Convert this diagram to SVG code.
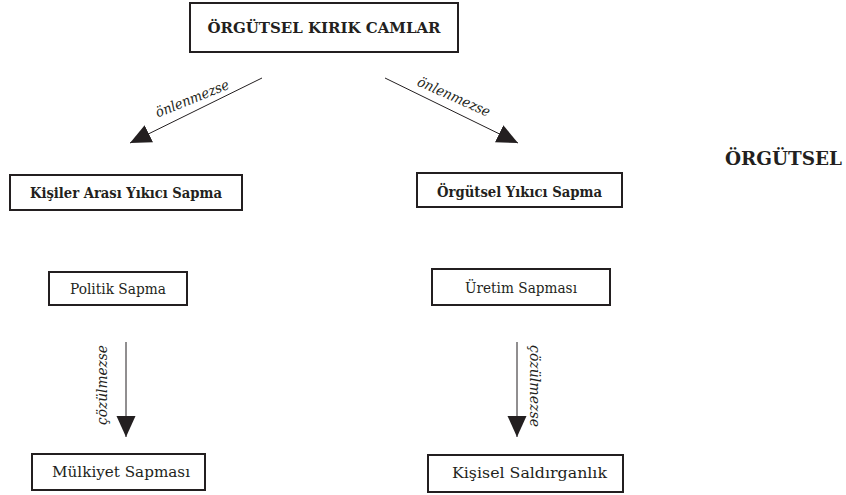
<svg xmlns="http://www.w3.org/2000/svg" width="846" height="495" viewBox="0 0 846 495">
<style>
.box{fill:#fff;stroke:#231f20;stroke-width:2}
text{font-family:'DejaVu Serif',serif;fill:#231f20}
.b{font-weight:bold;font-size:15.5px}
.r{font-size:15.5px}
.i{font-style:italic;font-size:14px}
.c{text-anchor:middle}
.ln{stroke:#231f20;stroke-width:1;fill:none;marker-end:url(#ah)}
</style>
<defs>
<marker id="ah" markerUnits="userSpaceOnUse" markerWidth="22" markerHeight="20" refX="21" refY="10" orient="auto">
<path d="M0,0.5 L21,10 L0,19.5 z" fill="#231f20"/>
</marker>
</defs>
<rect width="846" height="495" fill="#fff"/>
<g id="connectors">
<line class="ln" x1="262" y1="78" x2="130" y2="143"/>
<line class="ln" x1="385" y1="78" x2="518" y2="143"/>
<line class="ln" x1="126" y1="342" x2="126" y2="437"/>
<line class="ln" x1="517" y1="342" x2="517" y2="437"/>
<text class="i c" transform="translate(194,103) rotate(-22)" textLength="78" lengthAdjust="spacingAndGlyphs">önlenmezse</text>
<text class="i c" transform="translate(452,101) rotate(24)" textLength="78" lengthAdjust="spacingAndGlyphs">önlenmezse</text>
<text class="i c" transform="translate(107,385) rotate(-90)" textLength="80" lengthAdjust="spacingAndGlyphs">çözülmezse</text>
<text class="i c" transform="translate(530,386) rotate(90)" textLength="82" lengthAdjust="spacingAndGlyphs">çözülmezse</text>
</g>
<g id="n-top">
<rect class="box" x="190" y="3" width="268" height="49"/>
<text class="b c" x="324" y="33" textLength="233" lengthAdjust="spacingAndGlyphs">ÖRGÜTSEL KIRIK CAMLAR</text>
</g>
<g id="n-kisiler">
<rect class="box" x="10" y="175" width="232" height="35"/>
<text class="b c" x="126" y="198" textLength="192" lengthAdjust="spacingAndGlyphs">Kişiler Arası Yıkıcı Sapma</text>
</g>
<g id="n-orgutsel">
<rect class="box" x="417" y="173" width="205" height="34"/>
<text class="b c" x="519.5" y="197" textLength="165" lengthAdjust="spacingAndGlyphs">Örgütsel Yıkıcı Sapma</text>
</g>
<g id="n-label">
<text class="b" x="725" y="165" style="font-size:18px" textLength="117" lengthAdjust="spacingAndGlyphs">ÖRGÜTSEL</text>
</g>
<g id="n-politik">
<rect class="box" x="49" y="272" width="138" height="33"/>
<text class="r c" x="118" y="294" textLength="96" lengthAdjust="spacingAndGlyphs">Politik Sapma</text>
</g>
<g id="n-uretim">
<rect class="box" x="432" y="269" width="178" height="36"/>
<text class="r c" x="521" y="293" textLength="112" lengthAdjust="spacingAndGlyphs">Üretim Sapması</text>
</g>
<g id="n-mulkiyet">
<rect class="box" x="32" y="454" width="173" height="36"/>
<text class="r c" x="121" y="477" textLength="138" lengthAdjust="spacingAndGlyphs">Mülkiyet Sapması</text>
</g>
<g id="n-kisisel">
<rect class="box" x="428" y="455" width="195" height="37"/>
<text class="r c" x="529.5" y="478" textLength="155" lengthAdjust="spacingAndGlyphs">Kişisel Saldırganlık</text>
</g>
</svg>
